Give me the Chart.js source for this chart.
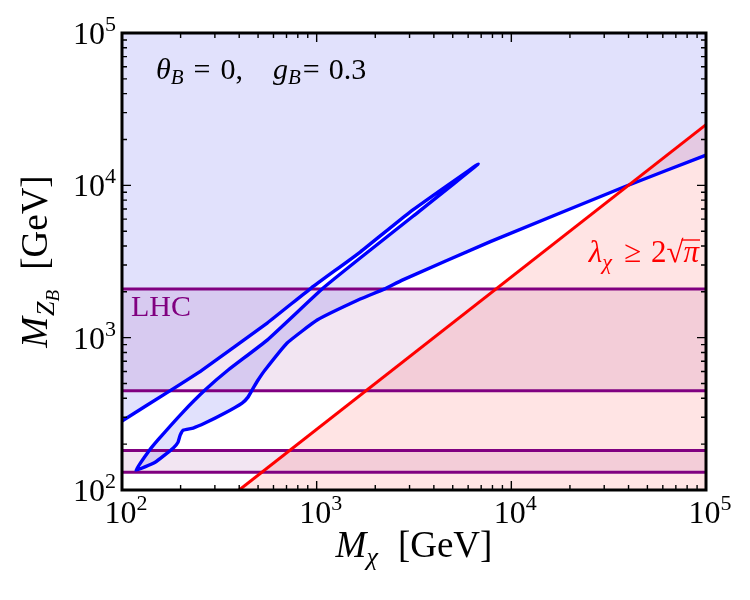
<!DOCTYPE html>
<html lang="en">
<head>
<meta charset="UTF-8">
<title>M_ZB vs M_chi</title>
<script src="https://cdn.jsdelivr.net/npm/chart.js"></script>
<style>
  body { margin: 0; background: #fff; }
  #wrap { width: 750px; height: 600px; }
</style>
</head>
<body>
<div id="wrap"><canvas id="chart" width="750" height="600"></canvas></div>
<script>
// axis limits (GeV)
const xRange = [100, 100000];
const yRange = [100, 100000];
const tickExps = [2, 3, 4, 5];

// blue contour: left edge -> tip -> lower tip -> right edge
const blueX = [100, 172, 258, 557, 937, 1674, 3025, 6760,
               3135, 1674, 1080, 557, 351, 267, 203.5, 153, 136, 118,
               148, 183, 194, 199, 206, 232, 267, 338, 414, 444, 472, 500, 543,
               705, 1006, 1674, 2223, 2752, 7800, 39000, 100000];
const blueY = [284, 439, 613, 1247, 2117, 3648, 6700, 13800,
               6290, 3333, 2117, 964, 613, 453, 320, 213, 177, 135,
               152, 188, 206, 229, 247, 255, 275, 320, 372, 407, 466, 527, 613,
               922, 1305, 1792, 2084, 2388, 4270, 9894, 15800];

// LHC band edges (upper band top/bottom, lower band top/bottom)
const lhcEdges = [2084, 448, 182, 131];

// perturbativity line lambda_chi >= 2 sqrt(pi)
const redX = [400, 100000];
const redY = [100, 25000];

const SERIF = '"Liberation Serif", "DejaVu Serif", serif';
const f = (size, italic) => (italic ? 'italic ' : '') + size + 'px ' + SERIF;

const pts = (xs, ys) => xs.map((v, i) => ({ x: v, y: ys[i] }));
const hline = v => [{ x: xRange[0], y: v }, { x: xRange[1], y: v }];

// region above the contour (blue shading)
const blueShape = [{ x: xRange[0], y: yRange[1] }]
  .concat(pts(blueX, blueY))
  .concat([{ x: xRange[1], y: yRange[1] }]);

function drawRuns(ctx, runs, x, y, align, color) {
  ctx.save();
  ctx.fillStyle = color;
  ctx.strokeStyle = color;
  ctx.textAlign = 'left';
  ctx.textBaseline = 'alphabetic';
  let w = 0;
  for (const r of runs) {
    if (r.gap) { w += r.gap; continue; }
    ctx.font = r.font;
    w += ctx.measureText(r.text).width;
  }
  let cx = align === 'center' ? x - w / 2 : align === 'right' ? x - w : x;
  for (const r of runs) {
    if (r.gap) { cx += r.gap; continue; }
    ctx.font = r.font;
    const rw = ctx.measureText(r.text).width;
    ctx.fillText(r.text, cx, y + (r.dy || 0));
    if (r.bar) {
      ctx.lineWidth = 1.4;
      ctx.beginPath();
      ctx.moveTo(cx - 2, y + r.bar);
      ctx.lineTo(cx + rw + 1, y + r.bar);
      ctx.stroke();
    }
    cx += rw;
  }
  ctx.restore();
}

const texPlugin = {
  id: 'tex',
  afterDraw(chart) {
    const { ctx, chartArea: a, scales: { x, y } } = chart;
    ctx.save();
    // inward ticks on all four sides
    ctx.strokeStyle = '#000';
    ctx.lineWidth = 1.4;
    for (let e = tickExps[0]; e < tickExps[tickExps.length - 1]; e++) {
      for (let m = 1; m <= 9; m++) {
        const v = m * Math.pow(10, e);
        const len = m === 1 ? 9 : 5;
        const px = x.getPixelForValue(v);
        const py = y.getPixelForValue(v);
        ctx.beginPath();
        ctx.moveTo(px, a.bottom); ctx.lineTo(px, a.bottom - len);
        ctx.moveTo(px, a.top); ctx.lineTo(px, a.top + len);
        ctx.moveTo(a.left, py); ctx.lineTo(a.left + len, py);
        ctx.moveTo(a.right, py); ctx.lineTo(a.right - len, py);
        ctx.stroke();
      }
    }
    ctx.lineWidth = 3;
    ctx.strokeRect(a.left, a.top, a.right - a.left, a.bottom - a.top);
    ctx.restore();

    // tick labels 10^n
    for (const e of tickExps) {
      const v = Math.pow(10, e);
      const lab = [{ text: '10', font: f(32) }, { text: String(e), font: f(22), dy: -13 }];
      drawRuns(ctx, lab, x.getPixelForValue(v) + 4, a.bottom + 33, 'center', '#000');
      drawRuns(ctx, lab, a.left - 6, y.getPixelForValue(v) + 11, 'right', '#000');
    }

    // axis titles
    drawRuns(ctx, [
      { text: 'M', font: f(37, true) },
      { text: 'χ', font: f(26, true), dy: 8 },
      { gap: 20 },
      { text: '[GeV]', font: f(37) }
    ], (a.left + a.right) / 2, 557, 'center', '#000');

    ctx.save();
    ctx.translate(47, (a.top + a.bottom) / 2);
    ctx.rotate(-Math.PI / 2);
    drawRuns(ctx, [
      { text: 'M', font: f(37, true) },
      { gap: 1 },
      { text: 'Z', font: f(26, true), dy: 7 },
      { text: 'B', font: f(19, true), dy: 12 },
      { gap: 20 },
      { text: '[GeV]', font: f(37) }
    ], 0, 0, 'center', '#000');
    ctx.restore();

    // annotations
    drawRuns(ctx, [
      { text: 'θ', font: f(30, true) },
      { text: 'B', font: f(21, true), dy: 5 },
      { gap: 10 },
      { text: '=', font: f(30) },
      { gap: 10 },
      { text: '0,', font: f(30) },
      { gap: 30 },
      { text: 'g', font: f(30, true) },
      { text: 'B', font: f(21, true), dy: 5 },
      { gap: 2 },
      { text: '=', font: f(30) },
      { gap: 9 },
      { text: '0.3', font: f(30) }
    ], 156, 79, 'left', '#000');

    drawRuns(ctx, [{ text: 'LHC', font: f(30) }], 131, 316, 'left', '#800080');

    drawRuns(ctx, [
      { text: 'λ', font: f(31, true) },
      { text: 'χ', font: f(22, true), dy: 7 },
      { gap: 12 },
      { text: '≥', font: f(31) },
      { gap: 10 },
      { text: '2', font: f(31) },
      { text: '√', font: f(31) },
      { text: 'π', font: f(31, true), bar: -22 }
    ], 699, 262, 'right', '#ff0000');
  }
};

new Chart(document.getElementById('chart'), {
  type: 'line',
  data: {
    datasets: [
      { data: blueShape, fill: 'shape', backgroundColor: 'rgba(10,10,230,0.12)', borderWidth: 0, order: 3 },
      { data: hline(lhcEdges[0]), fill: 2, backgroundColor: 'rgba(128,0,128,0.10)', borderColor: '#800080', borderWidth: 3, order: 2 },
      { data: hline(lhcEdges[1]), fill: false, borderColor: '#800080', borderWidth: 3, order: 2 },
      { data: hline(lhcEdges[2]), fill: 4, backgroundColor: 'rgba(128,0,128,0.10)', borderColor: '#800080', borderWidth: 3, order: 2 },
      { data: hline(lhcEdges[3]), fill: false, borderColor: '#800080', borderWidth: 3, order: 2 },
      { data: pts(redX, redY), fill: 'start', backgroundColor: 'rgba(255,0,0,0.105)', borderColor: '#ff0000', borderWidth: 3, order: 0 },
      { data: pts(blueX, blueY), fill: false, borderColor: '#0000ff', borderWidth: 3.4, borderJoinStyle: 'round', borderCapStyle: 'round', tension: 0.12, order: 1 }
    ]
  },
  options: {
    responsive: false,
    animation: false,
    devicePixelRatio: 1,
    events: [],
    layout: { padding: { top: 33, right: 44, left: 0, bottom: 0 } },
    elements: { point: { radius: 0 }, line: { tension: 0 } },
    plugins: {
      legend: { display: false },
      tooltip: { enabled: false },
      filler: { drawTime: 'beforeDatasetsDraw' }
    },
    scales: {
      x: {
        type: 'logarithmic', min: xRange[0], max: xRange[1],
        grid: { display: false, drawTicks: false }, border: { display: false },
        ticks: { display: false },
        afterFit: s => { s.height = 110; }
      },
      y: {
        type: 'logarithmic', min: yRange[0], max: yRange[1],
        grid: { display: false, drawTicks: false }, border: { display: false },
        ticks: { display: false },
        afterFit: s => { s.width = 122; }
      }
    }
  },
  plugins: [texPlugin]
});
</script>
</body>
</html>
